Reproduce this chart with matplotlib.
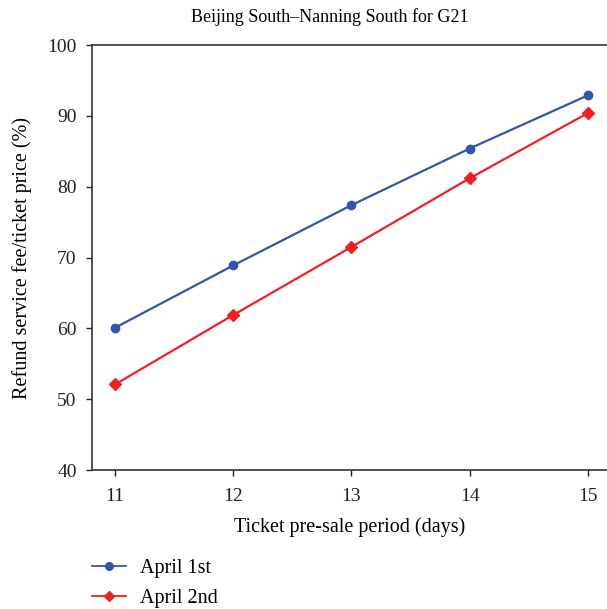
import numpy as np
import matplotlib
matplotlib.use("Agg")
import matplotlib.pyplot as plt

# data
days = [11, 12, 13, 14, 15]
april_1st = [60.1, 68.9, 77.4, 85.4, 92.9]
april_2nd = [52.1, 61.9, 71.5, 81.2, 90.4]

plt.rcParams['font.family'] = ['Liberation Serif', 'DejaVu Serif']
plt.rcParams['font.size'] = 14

fig = plt.figure(figsize=(6.07, 6.09), dpi=100)
ax = fig.add_axes([0.1516, 0.228, 0.85, 0.698])

ax.plot(days, april_1st, color='#3355aa', linewidth=1.6, marker='o', markersize=6,
        label='April 1st')
ax.plot(days, april_2nd, color='#ee2024', linewidth=1.6, marker='D', markersize=6,
        label='April 2nd')

ax.set_xlim(10.805, 15.17)
ax.set_ylim(40, 100)
ax.set_xticks(days)
ax.set_yticks(np.arange(40, 101, 10))
ax.tick_params(direction='out', length=4, width=1, colors='#222222', labelsize=14)
ax.tick_params(axis='y', pad=7)
ax.tick_params(axis='x', pad=9)
ax.spines['right'].set_visible(False)
for s in ax.spines.values():
    s.set_color('#333333')
    s.set_linewidth(1.2)

fig.text(330 / 607, 1 - 17 / 609, 'Beijing South\u2013Nanning South for G21',
         fontsize=13, ha='center', va='center')
ax.set_xlabel('Ticket pre-sale period (days)', fontsize=14.5, labelpad=9)
ax.set_ylabel('Refund service fee/ticket price (%)', fontsize=14.5, labelpad=11)

leg = ax.legend(loc='upper left', bbox_to_anchor=(-0.016, -0.19), frameon=False,
                fontsize=14.5, handlelength=1.7, handletextpad=0.7,
                labelspacing=0.55, borderaxespad=0)
for h in leg.legend_handles:
    h.set_linewidth(1.3)
    h.set_markersize(5.5)

fig.savefig('out.png', dpi=100)
